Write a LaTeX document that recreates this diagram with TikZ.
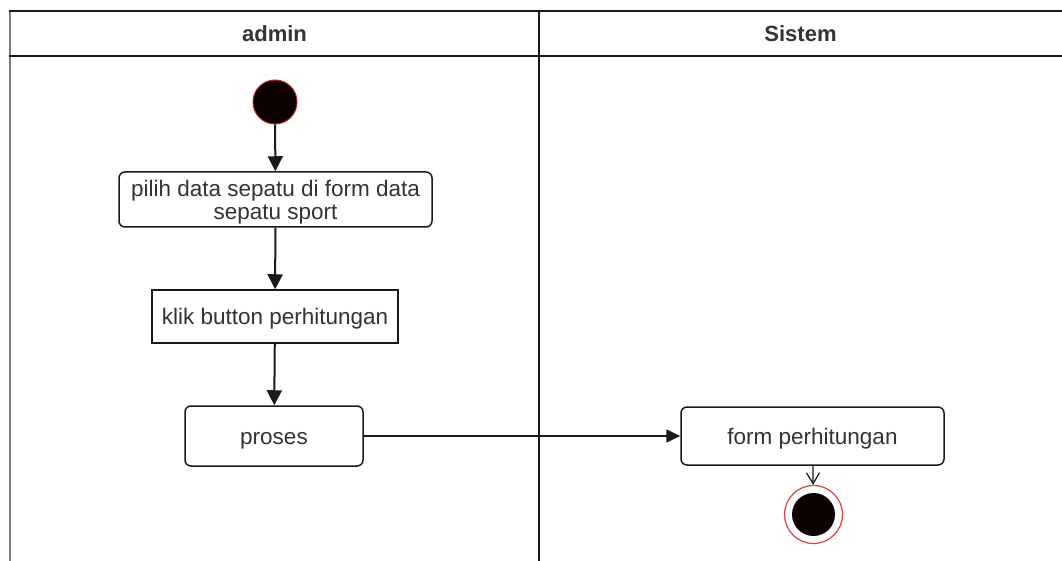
\documentclass[tikz,border=0pt]{standalone}
\usepackage{fontspec}
\setmainfont{Liberation Sans}
\usetikzlibrary{arrows.meta}
\definecolor{ink}{HTML}{333333}
\definecolor{edge}{HTML}{1A1A1A}
\definecolor{lanegray}{HTML}{7F7F7F}
\definecolor{dotfill}{HTML}{0D0000}
\definecolor{dotring}{HTML}{B02020}
\definecolor{endring}{HTML}{E04040}
\begin{document}
\begin{tikzpicture}[x=1pt,y=-1pt,
  lane/.style={line width=2pt,draw=edge},
  act/.style={draw=edge,line width=1.5pt,rounded corners=6pt,fill=white,
    inner sep=0pt,text=ink,font=\fontsize{22.5}{23}\selectfont,text depth=0pt},
  oneline/.style={text height=16.5pt},
  plainact/.style={act,rounded corners=0pt},
  head/.style={font=\bfseries\fontsize{22}{24}\selectfont,text=ink},
  flow/.style={line width=2pt,draw=edge,-{Triangle[length=15pt,width=15pt]}},
  hflow/.style={line width=1.5pt,draw=edge,-{Triangle[length=14pt,width=13pt]}},
  openflow/.style={line width=1.2pt,draw=edge,-{Straight Barb[length=11pt,width=13pt]}}
]
\useasboundingbox (0,0) rectangle (1062,561);
\fill[white] (0,0) rectangle (1062,561);

% swimlane frame
\draw[line width=2.5pt,draw=lanegray] (10,11) -- (10,561);
\draw[lane] (9,11) -- (1062,11);
\draw[lane] (9,56) -- (1062,56);
\draw[lane] (539,11) -- (539,561);
\node[head] (hadmin) at (274.5,34) {admin};
\node[head] (hsistem) at (800.5,34) {Sistem};

% start state
\node[circle,fill=dotfill,draw=dotring,line width=1pt,minimum size=44pt,inner sep=0pt] (start) at (275,102) {};

% activities
\node[act,align=center,minimum width=313pt,minimum height=55pt] (pilih) at (275.5,199.5)
  {pilih data sepatu di form data\\sepatu sport};
\node[plainact,oneline,minimum width=246pt,minimum height=53pt] (klik) at (275,316.5)
  {klik button perhitungan};
\node[act,oneline,minimum width=178pt,minimum height=60pt] (proses) at (274,436) {proses};
\node[act,oneline,minimum width=263pt,minimum height=58pt] (form) at (812.5,436) {form perhitungan};

% end state
\node[circle,draw=endring,line width=1.2pt,fill=white,minimum size=58pt,inner sep=0pt] (stop) at (813.5,514.5) {};
\node[circle,fill=dotfill,minimum size=43pt,inner sep=0pt] (stopdot) at (stop.center) {};

% transitions
\draw[flow] (start) -- (pilih);
\draw[flow] (pilih) -- (klik);
\draw[flow] (klik) -- (proses);
\draw[hflow] (proses) -- (form);
\draw[openflow] (form) -- (stop);
\end{tikzpicture}
\end{document}
